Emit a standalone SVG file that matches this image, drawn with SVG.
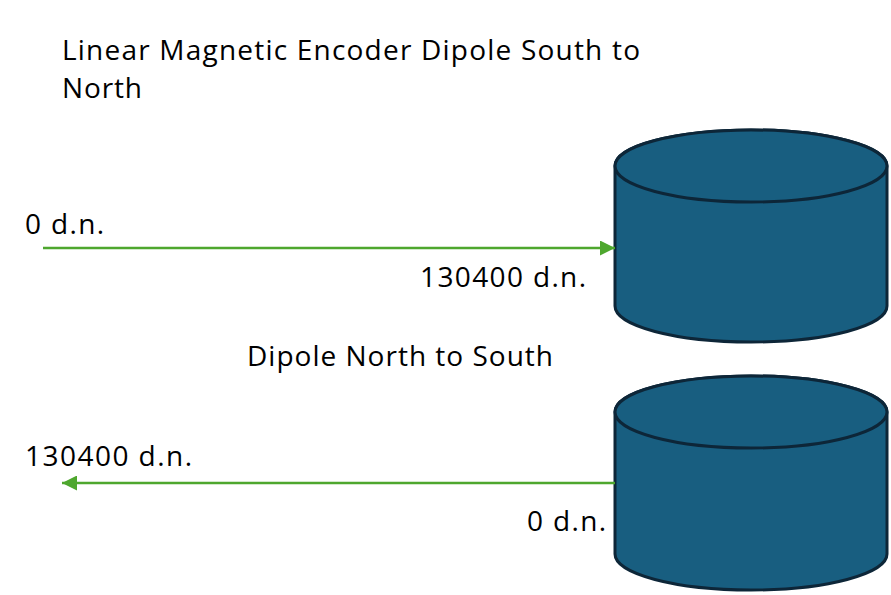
<svg xmlns="http://www.w3.org/2000/svg" width="891" height="595" viewBox="0 0 891 595">
<style>
  .t { font-family: "Open Sans", "Liberation Sans", sans-serif; font-size: 28px; fill: #000; }
  .cyl { fill: #185e80; stroke: #0d2638; stroke-width: 3; }
  .conn { stroke: #4ea72e; stroke-width: 2.5; fill: none; }
</style>
<defs>
  <marker id="ah" viewBox="0 0 10 10" refX="10" refY="5" markerWidth="6" markerHeight="6" markerUnits="strokeWidth" orient="auto">
    <path d="M0,0 L10,5 L0,10 z" fill="#4ea72e"/>
  </marker>
</defs>
<rect width="891" height="595" fill="#fff"/>
<g id="title">
  <text class="t" x="62" y="60" textLength="578" lengthAdjust="spacing">Linear Magnetic Encoder Dipole South to</text>
  <text class="t" x="62" y="98" textLength="80" lengthAdjust="spacing">North</text>
</g>
<g id="cylinder1">
  <path class="cyl" d="M615,166 L615,306 A136,36 0 0 0 887,306 L887,166 A136,36 0 0 0 615,166 Z"/>
  <ellipse class="cyl" cx="751" cy="166" rx="136" ry="36"/>
</g>
<g id="cylinder2">
  <path class="cyl" d="M615,412 L615,554 A136,36 0 0 0 887,554 L887,412 A136,36 0 0 0 615,412 Z"/>
  <ellipse class="cyl" cx="751" cy="412" rx="136" ry="36"/>
</g>
<g id="connectors">
  <line class="conn" x1="43" y1="248" x2="615" y2="248" marker-end="url(#ah)"/>
  <line class="conn" x1="615" y1="483" x2="62" y2="483" marker-end="url(#ah)"/>
</g>
<g id="labels">
  <text class="t" x="25" y="234" textLength="79" lengthAdjust="spacing">0 d.n.</text>
  <text class="t" x="420" y="287" textLength="166" lengthAdjust="spacing">130400 d.n.</text>
  <text class="t" x="247" y="366" textLength="306" lengthAdjust="spacing">Dipole North to South</text>
  <text class="t" x="25" y="466" textLength="167" lengthAdjust="spacing">130400 d.n.</text>
  <text class="t" x="527" y="531" textLength="79" lengthAdjust="spacing">0 d.n.</text>
</g>
</svg>
